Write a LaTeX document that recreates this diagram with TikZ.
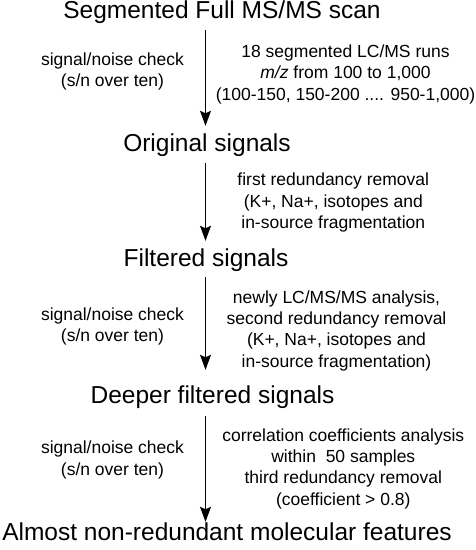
\documentclass[tikz,border=0pt]{standalone}
\usepackage{fontspec}
\setmainfont{Liberation Sans}
\usepackage{xcolor}
\usetikzlibrary{arrows.meta}
\definecolor{ink}{HTML}{000000}
\definecolor{paper}{HTML}{FFFFFF}
\tikzset{
  stage/.style={text=ink, font=\fontsize{24.5}{29}\selectfont, inner sep=0pt, text height=18pt, text depth=5pt, anchor=base},
  note/.style={text=ink, font=\fontsize{17.5}{21.3}\selectfont, align=center, inner sep=0pt, anchor=base},
  flow/.style={draw=ink, line width=1.2pt, -{Stealth[length=15pt,width=11pt,inset=2.5pt]}, shorten <=7pt, shorten >=7pt},
}

\begin{document}
\begin{tikzpicture}[x=1pt,y=-1pt]
  \fill[paper] (0,0) rectangle (476,550);
  \useasboundingbox (0,0) rectangle (476,550);
  \coordinate (ax) at (205.5,0);

  % stages
  \node[stage] (scan) at (222,18) {Segmented Full MS/MS scan};
  \node[stage] (orig) at (207,151) {Original signals};
  \node[stage] (filt) at (206,266) {Filtered signals};
  \node[stage] (deep) at (212.5,403) {Deeper filtered signals};
  \node[stage] (feat) at (227,540) {Almost non-redundant molecular features};

  % arrows
  \draw[flow] (scan.south -| ax) -- (orig.north -| ax);
  \draw[flow] (orig.south -| ax) -- (filt.north -| ax);
  \draw[flow, shorten <=6pt, shorten >=15pt] (filt.south -| ax) -- (deep.north -| ax);
  \draw[flow, shorten <=8pt, shorten >=0pt] (deep.south -| ax) -- (feat.north -| ax);

  % side notes (placed by the baseline of their last line)
  \node[note] (sn1) at (112.5,86.7) {signal/noise check\\(s/n over ten)};
  \node[note] (runs) at (345.5,100) {18 segmented LC/MS runs\\\textit{m/z} from 100 to 1,000\\(100-150, 150-200 .... 950-1,000)};
  \node[note] (red1) at (333.3,228.3) {first redundancy removal\\(K+, Na+, isotopes and\\in-source fragmentation};
  \node[note] (sn2) at (112.5,341.7) {signal/noise check\\(s/n over ten)};
  \node[note] (red2) at (336.5,367) {newly LC/MS/MS analysis,\\second redundancy removal\\(K+, Na+, isotopes and\\in-source fragmentation)};
  \node[note] (sn3) at (112.5,475) {signal/noise check\\(s/n over ten)};
  \node[note] (red3) at (343.3,505) {correlation coefficients analysis\\within~ 50 samples\\third redundancy removal\\(coefficient > 0.8)};
\end{tikzpicture}
\end{document}
